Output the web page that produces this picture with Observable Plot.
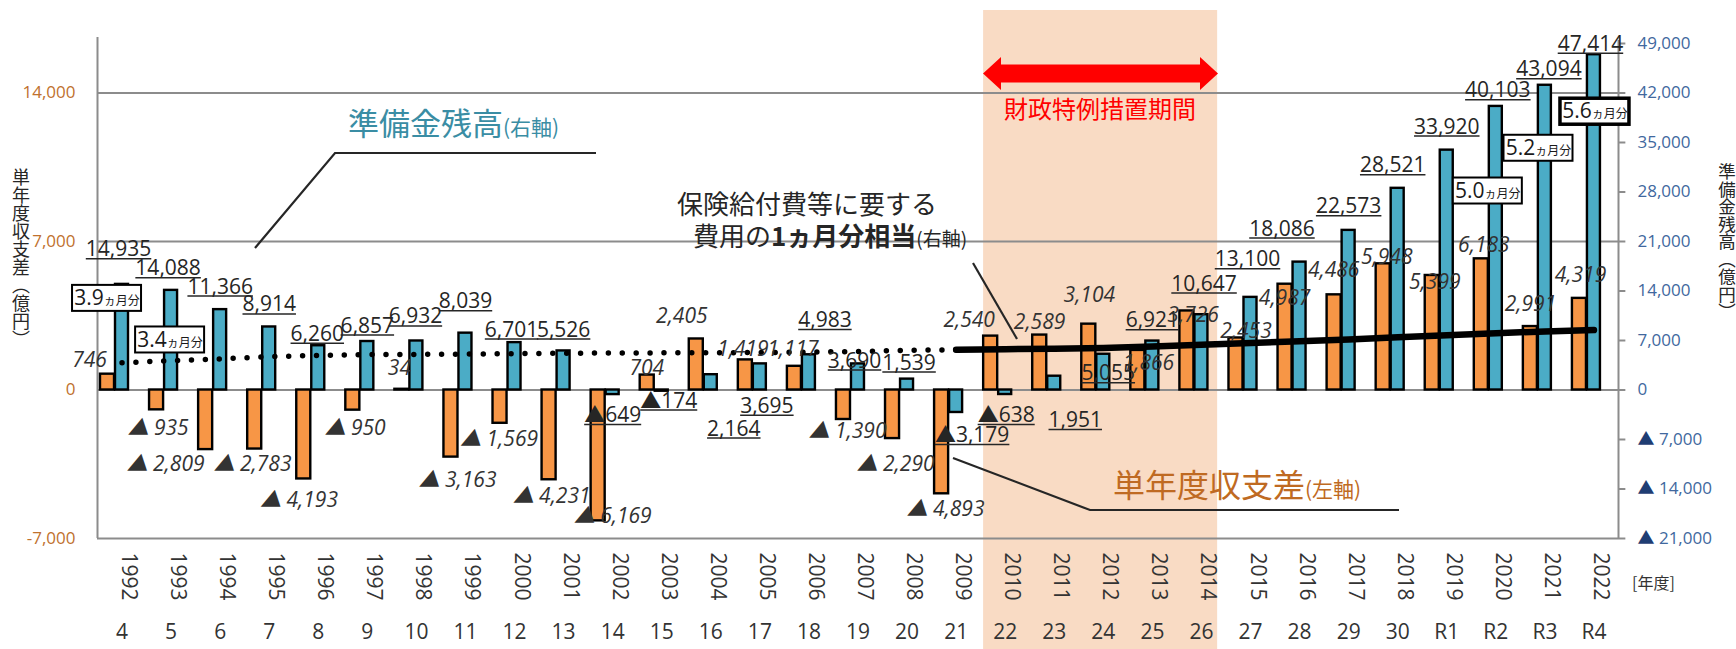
<!DOCTYPE html>
<html><head><meta charset="utf-8">
<script src="https://cdn.jsdelivr.net/npm/d3@7"></script>
<script src="https://cdn.jsdelivr.net/npm/@observablehq/plot@0.6"></script>
<style>
html,body{margin:0;padding:0;background:#fff;overflow:hidden;}
#chart{position:relative;width:1736px;height:649px;}
</style>
</head><body><div id="chart"></div>
<script>
// ---------------- data ----------------
const years = ["1992","1993","1994","1995","1996","1997","1998","1999","2000","2001","2002","2003","2004","2005","2006","2007","2008","2009","2010","2011","2012","2013","2014","2015","2016","2017","2018","2019","2020","2021","2022"];
const eraLabels = ["4","5","6","7","8","9","10","11","12","13","14","15","16","17","18","19","20","21","22","23","24","25","26","27","28","29","30","R1","R2","R3","R4"];
// 単年度収支差（左軸, 億円）
const balance = [746,-935,-2809,-2783,-4193,-950,34,-3163,-1569,-4231,-6169,704,2405,1419,1117,-1390,-2290,-4893,2540,2589,3104,1866,3726,2453,4987,4486,5948,5399,6183,2991,4319];
// 準備金残高（右軸, 億円）
const reserve = [14935,14088,11366,8914,6260,6857,6932,8039,6701,5526,-649,-174,2164,3695,4983,3690,1539,-3179,-638,1951,5055,6921,10647,13100,18086,22573,28521,33920,40103,43094,47414];
const monthlyCost = [3850,4140,4400,4700,4900,5000,5040,5080,5130,5200,5240,5250,5270,5300,5350,5450,5600,5700,5780,5850,5950,6150,6400,6650,6900,7150,7450,7750,8020,8290,8470];
const dottedUntil = "2009";
const monthsCover = [{year:"1992",months:"3.9"},{year:"1993",months:"3.4"},{year:"2020",months:"5.0"},{year:"2021",months:"5.2"},{year:"2022",months:"5.6"}];
const leftTicks = [-7000,0,7000,14000];
const rightTicks = [-21000,-14000,-7000,0,7000,14000,21000,28000,35000,42000,49000];
const specialPeriod = ["2010","2014"];

// ---------------- layout (pixel offsets of labels from their bar end) ----------------
const reserveLabelOffset = [[-3.5,-28],[-3,-15],[0,-16],[0,-15.5],[-1,-5],[0,-9],[-1,-17.5],[0,-24.7],[-3,-6],[0,-14.4],[0,27.6],[7,16.3],[23,61],[7,49],[16,-27.6],[-3.5,3.6],[2,-9.6],[16,29.7],[1,27.7],[21,51],[5,26],[0,-13.6],[2.6,-24],[-3,-31],[-17.6,-26.6],[0,-17],[-5,-16],[0,-16.6],[2,-9],[4,-9],[-3.5,-4]];
const balanceLabelOffset = [[-32.5,-7],[-13,24.7],[-54.6,21],[-16.7,21.5],[-19.3,28.3],[-12.3,24.4],[-17,-13.8],[-8,30],[-15.5,23],[-12,23.5],[0,2.4],[-15,0],[-29,-15.5],[-17,-4.4],[-16,-10.8],[-10.5,18],[-11.5,32.6],[-10.6,21.7],[-36,-9.6],[-14.7,-5.6],[-14,-22],[-4,20],[-8.4,11.2],[-4.5,0],[-15,21],[-15,-17.7],[-11,0],[-12,13.3],[-12,-6.7],[-14.4,-16],[-13.5,-16]];
const monthsBoxLayout = [[-15,14,2],[-1,49.6,2],[-8,84.6,2],[-6.4,63,2],[1,57,3.5]];

const FONT = "'Open Sans','Noto Sans CJK JP',sans-serif";
const JP = "'Noto Sans CJK JP','Noto Sans',sans-serif";
const ORANGE = "#f79646", BLUE = "#4bacc6", GRID = "#8c8c8c";
const RES_TXT = "#262625", MON_TXT = "#1a1a1b", RT_TXT = "#41689e";
const n = years.length;
const yTop = 49000/3;
const fmt = d3.format(",");
const rows = years.map((y,i)=>({i, year:y, era:eraLabels[i], bal:balance[i], res:reserve[i], cost:monthlyCost[i]}));
const split = years.indexOf(dottedUntil);
const p0 = years.indexOf(specialPeriod[0]), p1 = years.indexOf(specialPeriod[1]);

const marks = [];
marks.push(Plot.rect([specialPeriod], {x1: ()=>p0+0.06, x2: ()=>p1+0.83, y1: ()=>-7000, y2: ()=>yTop, insetTop: -33, insetBottom: -111, fill: "#f9dbc4"}));
marks.push(Plot.ruleY(leftTicks, {stroke: GRID, strokeWidth: 2}));
marks.push(Plot.ruleX([0], {stroke: GRID, strokeWidth: 2, insetTop: -6}));
marks.push(Plot.ruleX([n], {stroke: GRID, strokeWidth: 2, insetTop: -3}));
marks.push(Plot.ruleY(rightTicks, {y: d=>d/3, x1: ()=>n, x2: ()=>n+0.15, stroke: GRID, strokeWidth: 2}));
marks.push(Plot.rect(rows, {x1: d=>d.i+0.061, x2: d=>d.i+0.347, y1: ()=>0, y2: d=>d.bal, fill: ORANGE, stroke: "#000", strokeWidth: 2.4}));
marks.push(Plot.rect(rows, {x1: d=>d.i+0.367, x2: d=>d.i+0.632, y1: ()=>0, y2: d=>d.res/3, fill: BLUE, stroke: "#000", strokeWidth: 2.4}));
marks.push(Plot.line(rows.slice(0, split+1), {x: d=>d.i+0.5, y: d=>d.cost/3, stroke: "#000", strokeWidth: 5.5, strokeDasharray: "0 13.9", strokeLinecap: "round"}));
marks.push(Plot.line(rows.slice(split), {x: d=>d.i+0.5, y: d=>d.cost/3, stroke: "#000", strokeWidth: 6.5, strokeLinecap: "round", strokeLinejoin: "round"}));
marks.push(Plot.text(leftTicks, {y: d=>d, text: d=> d<0 ? "-"+fmt(-d) : fmt(d), frameAnchor: "left", dx: -22, textAnchor: "end", fill: "#c0712e", fontSize: 17, fontFamily: FONT}));
marks.push(Plot.text(rightTicks, {y: d=>d/3, text: d=> d<0 ? "▲ "+fmt(-d) : fmt(d), frameAnchor: "right", dx: 19, textAnchor: "start", fill: RT_TXT, fontSize: 17, fontFamily: FONT}));
marks.push(Plot.text(rows, {x: d=>d.i+0.5, text: "year", frameAnchor: "bottom", dy: 14, rotate: 90, textAnchor: "start", fontSize: 21, fill: "#333", fontFamily: FONT}));
marks.push(Plot.text(rows, {x: d=>d.i+0.5, text: "era", frameAnchor: "bottom", dy: 100, fontSize: 21, fill: "#333", fontFamily: FONT}));
const FS = 21;
rows.forEach((d,k)=>{
  const [dx,dy] = reserveLabelOffset[k];
  marks.push(Plot.text([d], {x: d=>d.i+0.5, y: d=>d.res/3, text: d=> d.res<0 ? "▲"+fmt(-d.res) : fmt(d.res), dx, dy: dy-0.32*FS, fontSize: FS, fill: RES_TXT, fontFamily: FONT}));
  const [bx,by] = balanceLabelOffset[k];
  marks.push(Plot.text([d], {x: d=>d.i+0.5, y: d=>d.bal, text: d=> d.bal<0 ? "▲ "+fmt(-d.bal) : fmt(d.bal), dx: bx, dy: by-0.32*FS, fontSize: FS, fontStyle: "italic", fill: "#333", fontFamily: FONT}));
});
monthsCover.forEach((m,k)=>{
  const d = rows[years.indexOf(m.year)];
  const [dx,dy,sw] = monthsBoxLayout[k];
  marks.push(Plot.rect([d], {x1: d=>d.i+0.5, x2: d=>d.i+0.5, y1: d=>d.res/3, y2: d=>d.res/3, insetLeft: -34.5, insetRight: -34.5, insetTop: -13, insetBottom: -13, dx, dy, fill: "#fff", stroke: "#000", strokeWidth: sw}));
  marks.push(Plot.text([d], {x: d=>d.i+0.5, y: d=>d.res/3, text: ()=>m.months+"ヵ月分", dx, dy, fontSize: 21, fill: MON_TXT, fontFamily: FONT}));
});

const plot = Plot.plot({
  width: 1736, height: 649,
  marginLeft: 97, marginRight: 118, marginTop: 43, marginBottom: 111,
  x: {type: "linear", domain: [0, n], axis: null},
  y: {domain: [-7000, yTop], axis: null},
  style: {fontFamily: FONT, background: "transparent", overflow: "visible"},
  marks
});
document.getElementById("chart").append(plot);

const svg = d3.select(plot);
const byFill = c => svg.selectAll("g").filter(function(){ return (this.getAttribute("fill")||"").toLowerCase() === c; }).selectAll("text");
byFill(RT_TXT).each(function(){
  const s = this.textContent;
  if (s.startsWith("▲")) {
    const sel = d3.select(this); sel.text(null);
    sel.append("tspan").attr("fill", "#1f3d73").attr("font-family", JP).text("▲");
    sel.append("tspan").text(s.slice(1));
  }
});
byFill(MON_TXT).each(function(){
  const s = this.textContent, num = s.replace("ヵ月分", "");
  const sel = d3.select(this); sel.text(null);
  sel.append("tspan").attr("font-size", 21).text(num);
  sel.append("tspan").attr("font-size", 12).attr("font-family", JP).text("ヵ月分");
});
const ul = svg.append("g").attr("stroke", "#262626").attr("stroke-width", 1.5);
const sr = plot.getBoundingClientRect();
byFill(RES_TXT).each(function(){
  const r = this.getBoundingClientRect();
  const yb = r.bottom - sr.top - 0.29*FS + 2.5;
  ul.append("line").attr("x1", r.left - sr.left).attr("x2", r.right - sr.left).attr("y1", yb).attr("y2", yb);
});

const g = svg.append("g").attr("font-family", JP).attr("text-anchor", "start");
const line = (pts) => g.append("polyline").attr("points", pts).attr("fill", "none").attr("stroke", "#262626").attr("stroke-width", 2.2);
line("255,248 335,153 596,153");
line("973,263 1017,339");
line("953,458 1090,510 1399,510");
const t1 = g.append("text").attr("x", 348).attr("y", 135).attr("fill", "#3a8da4");
t1.append("tspan").attr("font-size", 31).text("準備金残高");
t1.append("tspan").attr("font-size", 21).text("(右軸)");
g.append("text").attr("x", 677).attr("y", 214).attr("fill", "#262626").attr("font-size", 26).text("保険給付費等に要する");
const t3 = g.append("text").attr("x", 693).attr("y", 246).attr("fill", "#262626").attr("font-size", 26);
t3.append("tspan").text("費用の");
t3.append("tspan").attr("font-weight", "bold").text("1ヵ月分相当");
t3.append("tspan").attr("font-size", 19).text("(右軸)");
const t4 = g.append("text").attr("x", 1113).attr("y", 497).attr("fill", "#bf6a22");
t4.append("tspan").attr("font-size", 32).text("単年度収支差");
t4.append("tspan").attr("font-size", 21).text("(左軸)");
g.append("polygon").attr("points", "983,73.5 1001,57 1001,64.5 1200,64.5 1200,57 1218,73.5 1200,90 1200,82.5 1001,82.5 1001,90").attr("fill", "#ff0000");
g.append("text").attr("x", 1100).attr("y", 118).attr("text-anchor", "middle").attr("font-size", 24).attr("fill", "#ff0000").text("財政特例措置期間");
g.append("text").attr("x", 1632).attr("y", 589).attr("font-size", 16).attr("fill", "#333").text("[年度]");
g.append("text").attr("x", 21).attr("y", 168).style("writing-mode", "vertical-rl").attr("font-size", 18).attr("fill", "#262626").text("単年度収支差（億円）");
g.append("text").attr("x", 1727).attr("y", 163).style("writing-mode", "vertical-rl").attr("font-size", 17.5).attr("fill", "#262626").text("準備金残高（億円）");
</script>
</body></html>
